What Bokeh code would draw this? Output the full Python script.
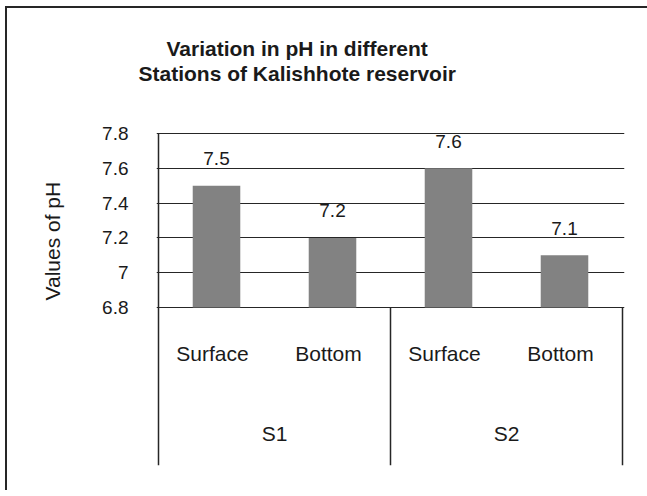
from bokeh.plotting import figure
from bokeh.models import (ColumnDataSource, Range1d, FixedTicker, LabelSet, Title)
from bokeh.core.properties import value
from bokeh.embed import file_html
from bokeh.resources import INLINE

# ---- data ----
stations = ["S1", "S1", "S2", "S2"]
depths = ["Surface", "Bottom", "Surface", "Bottom"]
ph_values = [7.5, 7.2, 7.6, 7.1]
groups = ["S1", "S2"]
y_ticks = [6.8, 7.0, 7.2, 7.4, 7.6, 7.8]
y_tick_labels = ["6.8", "7", "7.2", "7.4", "7.6", "7.8"]
title_lines = ["Variation in pH in different", "Stations of Kalishhote reservoir"]
y_title = "Values of pH"

# ---- layout constants (page pixels; canvas starts at the page corner) ----
W, H = 647, 490
AXIS_X = 158                  # where x = 0 (value axis) sits
TOP_TICK_Y = 133              # where the top tick (7.8) sits
FRAME_L, FRAME_T = 156, 84
FRAME_R, FRAME_B = 624, 465
PX_X, PX_Y = 116.0, 174.0
Y_TOP = y_ticks[-1]
Y_BASE = y_ticks[0]

def dy(py):
    return Y_TOP - (py - TOP_TICK_Y) / PX_Y

p = figure(width=W, height=H, output_backend="svg", toolbar_location=None,
           x_range=Range1d((FRAME_L - AXIS_X) / PX_X, (FRAME_R - AXIS_X) / PX_X),
           y_range=Range1d(dy(FRAME_B), dy(FRAME_T)),
           min_border_left=FRAME_L, min_border_top=FRAME_T,
           min_border_right=W - FRAME_R, min_border_bottom=H - FRAME_B)
p.xaxis.visible = False
p.xgrid.visible = False
p.outline_line_color = None
p.background_fill_color = "white"
p.border_fill_color = None
p.styles = {
    "background": ("linear-gradient(#262626,#262626) 5px 6px / 2px 100% no-repeat, "
                   "linear-gradient(#262626,#262626) 5px 6px / 100% 2px no-repeat, "
                   "white"),
}

FONT = "Liberation Sans"
TXT = "#1a1a1a"
LINE = "#262626"

# title: two centred lines (outer = p.title, inner = extra Title)
title_left = [166, 138]  # left edge of each line on the page
p.title.text = title_lines[0]
p.title.align = "left"
p.title.offset = title_left[0] - FRAME_L
p.title.standoff = 0
p.title.text_font = FONT
p.title.text_font_style = "bold"
p.title.text_font_size = "21px"
p.title.text_line_height = 1.15
p.title.text_color = TXT
p.add_layout(Title(text=title_lines[1], align="left", offset=title_left[1] - FRAME_L,
                   standoff=0, text_font=FONT, text_font_style="bold",
                   text_font_size="21px", text_line_height=1.15,
                   text_color=TXT), "above")

# y axis (ticks/labels from the library; its line is drawn only over the value span)
yax = p.yaxis[0]
yax.ticker = FixedTicker(ticks=y_ticks)
yax.major_label_overrides = {t: l for t, l in zip(y_ticks, y_tick_labels)}
yax.major_tick_out = 0
yax.major_tick_in = 0
yax.minor_tick_out = 0
yax.minor_tick_in = 0
yax.major_label_standoff = FRAME_L - 128
yax.major_label_text_font = FONT
yax.major_label_text_font_size = "19px"
yax.major_label_text_color = TXT
yax.axis_line_color = None

p.ygrid.ticker = FixedTicker(ticks=y_ticks)
p.ygrid.grid_line_color = LINE
p.ygrid.grid_line_width = 1.2

# y axis title as a side title
p.add_layout(Title(text=y_title, align="left", offset=FRAME_B - 300,
                   standoff=72, text_font=FONT, text_font_style="normal",
                   text_font_size="21px", text_color=TXT), "left")

# bars
xs = [i + 0.5 for i in range(len(ph_values))]
src = ColumnDataSource(dict(x=xs, top=ph_values, depth=depths,
                            label=[f"{v:g}" for v in ph_values]))
p.vbar(x="x", top="top", bottom=Y_BASE, width=0.41, source=src,
       fill_color="#828282", line_color=None)

p.add_layout(LabelSet(x="x", y="top", text="label", source=src, y_offset=27,
                      text_align="center", text_baseline="middle",
                      text_font=value(FONT), text_font_size=value("19px"),
                      text_color=TXT))

# category labels (inner level)
csrc = ColumnDataSource(dict(x=xs, y=[dy(353)] * len(xs), t=depths))
p.add_layout(LabelSet(x="x", y="y", text="t", source=csrc, x_offset=-4,
                      text_align="center", text_baseline="middle",
                      text_font=value(FONT), text_font_size=value("21px"),
                      text_color=TXT))

# group labels
n_per = len(depths) // len(groups)
gx = [n_per * i + n_per / 2 for i in range(len(groups))]
gsrc = ColumnDataSource(dict(x=gx, y=[dy(433)] * len(gx), t=groups))
p.add_layout(LabelSet(x="x", y="y", text="t", source=gsrc,
                      text_align="center", text_baseline="middle",
                      text_font=value(FONT), text_font_size=value("21px"),
                      text_color=TXT))

# value-axis line (top tick down to the bottom of the category block) and group separators
sep_x = [0] + [n_per * (i + 1) for i in range(len(groups))]
sep_top = [Y_TOP] + [Y_BASE] * len(groups)
p.segment(x0=sep_x, y0=sep_top, x1=sep_x, y1=[dy(FRAME_B)] * len(sep_x),
          line_color=LINE, line_width=1.5)

open("out.html", "w").write(file_html(p, INLINE))
